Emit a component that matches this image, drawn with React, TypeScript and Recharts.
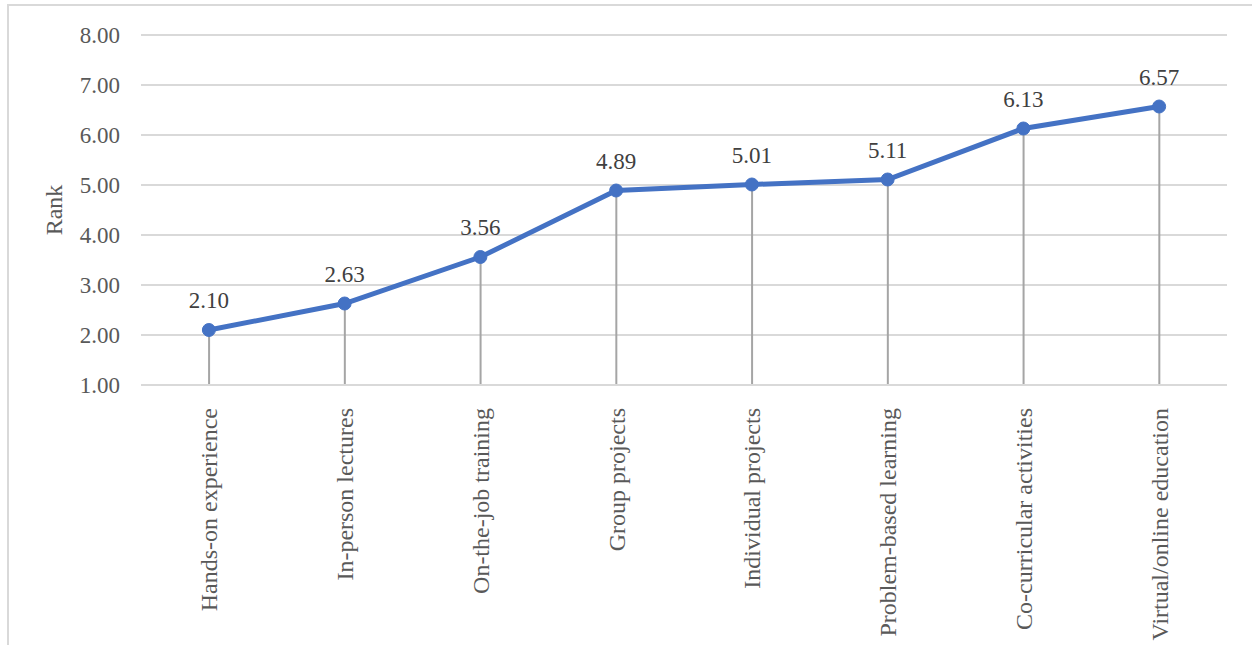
import React from 'react';
import {
  ComposedChart,
  Line,
  Bar,
  XAxis,
  YAxis,
  CartesianGrid,
  LabelList,
} from 'recharts';

const categories = [
  'Hands-on experience',
  'In-person lectures',
  'On-the-job training',
  'Group projects',
  'Individual projects',
  'Problem-based learning',
  'Co-curricular activities',
  'Virtual/online education',
];
const rankValues = [2.1, 2.63, 3.56, 4.89, 5.01, 5.11, 6.13, 6.57];
const yTicks = [1, 2, 3, 4, 5, 6, 7, 8];

const data = categories.map((name, i) => ({ name, rank: rankValues[i] }));

const FONT = '"Liberation Serif", "Times New Roman", serif';

const CategoryTick = (props: any) => {
  const { x, y, payload } = props;
  return (
    <text
      x={x}
      y={y + 15}
      transform={`rotate(-90, ${x}, ${y + 15})`}
      textAnchor="end"
      dy="0.35em"
      fontFamily={FONT}
      fontSize={24}
      fill="#595959"
    >
      {payload.value}
    </text>
  );
};

// thin grey line from each point down to the axis
const DropLine = (props: any) => {
  const { x, y, width, height } = props;
  const cx = x + width / 2;
  return <line x1={cx} y1={y} x2={cx} y2={y + height} stroke="#A5A5A5" strokeWidth={2} />;
};

const ValueLabel = (props: any) => {
  const { x, y, value } = props;
  return (
    <text x={x} y={y - 22} textAnchor="middle" fontFamily={FONT} fontSize={23} fill="#404040">
      {Number(value).toFixed(2)}
    </text>
  );
};

export default function App() {
  return (
    <div style={{ position: 'absolute', left: 0, top: 0, width: 1252, height: 645, background: '#fff' }}>
      <div
        style={{
          position: 'absolute',
          left: 7,
          top: 4,
          width: 1245,
          height: 641,
          borderTop: '2px solid #D9D9D9',
          borderLeft: '2px solid #D9D9D9',
          boxSizing: 'border-box',
        }}
      />
      <div style={{ position: 'absolute', left: 0, top: 0 }}>
        <ComposedChart
          width={1252}
          height={645}
          data={data}
          margin={{ top: 35, right: 25, bottom: 0, left: 0 }}
        >
          <CartesianGrid vertical={false} stroke="#D9D9D9" strokeWidth={2} />
          <XAxis
            dataKey="name"
            interval={0}
            axisLine={{ stroke: '#D9D9D9', strokeWidth: 2 }}
            tickLine={false}
            tick={<CategoryTick />}
            height={260}
          />
          <YAxis
            type="number"
            domain={[1, 8]}
            ticks={yTicks}
            width={141}
            axisLine={false}
            tickLine={false}
            tickSize={0}
            tickMargin={21}
            tickFormatter={(v: number) => v.toFixed(2)}
            tick={{ fontFamily: FONT, fontSize: 23, fill: '#595959' }}
            label={{
              value: 'Rank',
              angle: -90,
              position: 'insideLeft',
              offset: 53,
              style: { fontFamily: FONT, fontSize: 24, fill: '#595959', textAnchor: 'middle' },
            }}
          />
          <Bar dataKey="rank" shape={<DropLine />} isAnimationActive={false} />
          <Line
            type="linear"
            dataKey="rank"
            stroke="#4472C4"
            strokeWidth={5}
            dot={{ r: 6.5, fill: '#4472C4', stroke: '#4472C4', strokeWidth: 1 }}
            activeDot={false}
            isAnimationActive={false}
          >
            <LabelList dataKey="rank" content={<ValueLabel />} />
          </Line>
        </ComposedChart>
      </div>
    </div>
  );
}
